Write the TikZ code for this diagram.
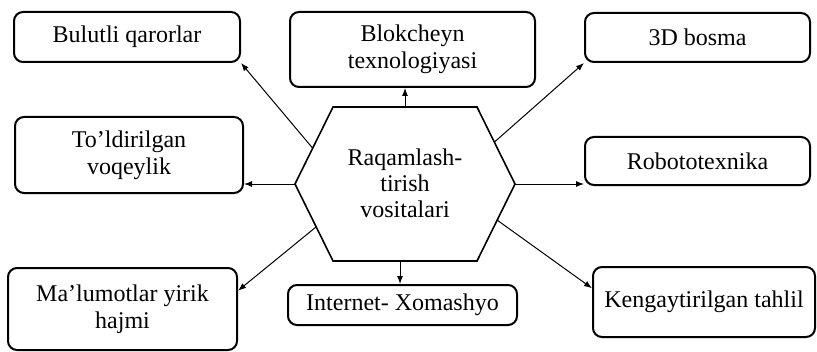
\documentclass[tikz,border=0pt]{standalone}
\usepackage{fontspec}
\setmainfont{Liberation Serif}
\usetikzlibrary{arrows.meta,calc}
\begin{document}
\begin{tikzpicture}[x=0.5pt,y=-0.5pt,
  box/.style={draw, line width=1pt, rounded corners=4.5pt, align=center, inner sep=0pt,
    font=\fontsize{12}{13.5}\selectfont},
  conn/.style={line width=0.5pt, -{Latex[length=4pt,width=3pt]}},
  hexline/.style={line width=0.8pt}]
\useasboundingbox (0,0) rectangle (817,352);
% boxes
\node[box, minimum width=113pt, minimum height=25pt] (b1) at (127,37) {Bulutli qarorlar};
\node[box, minimum width=122.5pt, minimum height=37.5pt] (b2) at (412.5,49.5) {Blokcheyn\\texnologiyasi};
\node[box, minimum width=112.5pt, minimum height=24.5pt] (b3) at (697.5,37.5) {3D bosma};
\node[box, minimum width=114pt, minimum height=38pt] (b4) at (129,155) {To’ldirilgan\\voqeylik};
\node[box, minimum width=112.5pt, minimum height=24pt] (b5) at (697.5,161) {Robototexnika};
\node[box, minimum width=114.5pt, minimum height=41pt] (b6) at (122.5,309) {Ma’lumotlar yirik\\hajmi};
\node[box, minimum width=114.5pt, minimum height=20pt] (b7) at (402.5,305) {Internet- Xomashyo};
\node[box, minimum width=111pt, minimum height=35pt] (b8) at (704,302) {Kengaytirilgan tahlil};
% hexagon
\draw[hexline] (333,107) -- (477,107) -- (515,184) -- (477,261) -- (333,261) -- (295,184) -- cycle;
\node[align=center, inner sep=0pt, font=\fontsize{12}{13}\selectfont] (hub) at (405,183) {Raqamlash-\\tirish\\vositalari};
\coordinate (hT) at (405,107);
\coordinate (hB) at (400,261);
\coordinate (hL) at (295,184);
\coordinate (hR) at (515,184);
\coordinate (hUL) at (312.5,148);
\coordinate (hUR) at (494.5,142);
\coordinate (hLL) at (316,227);
\coordinate (hLR) at (497,220);
% connectors
\draw[conn] (hUL) -- (b1.south east);
\draw[conn] (hT) -- (hT |- b2.south);
\draw[conn] (hUR) -- (b3.south west);
\draw[conn] (hL) -- (hL -| b4.east);
\draw[conn] (hR) -- (hR -| b5.west);
\draw[conn] (hLL) -- (b6.9);
\draw[conn] (hB) -- (hB |- b7.north);
\draw[conn] (hLR) -- (b8.173);
\end{tikzpicture}
\end{document}
